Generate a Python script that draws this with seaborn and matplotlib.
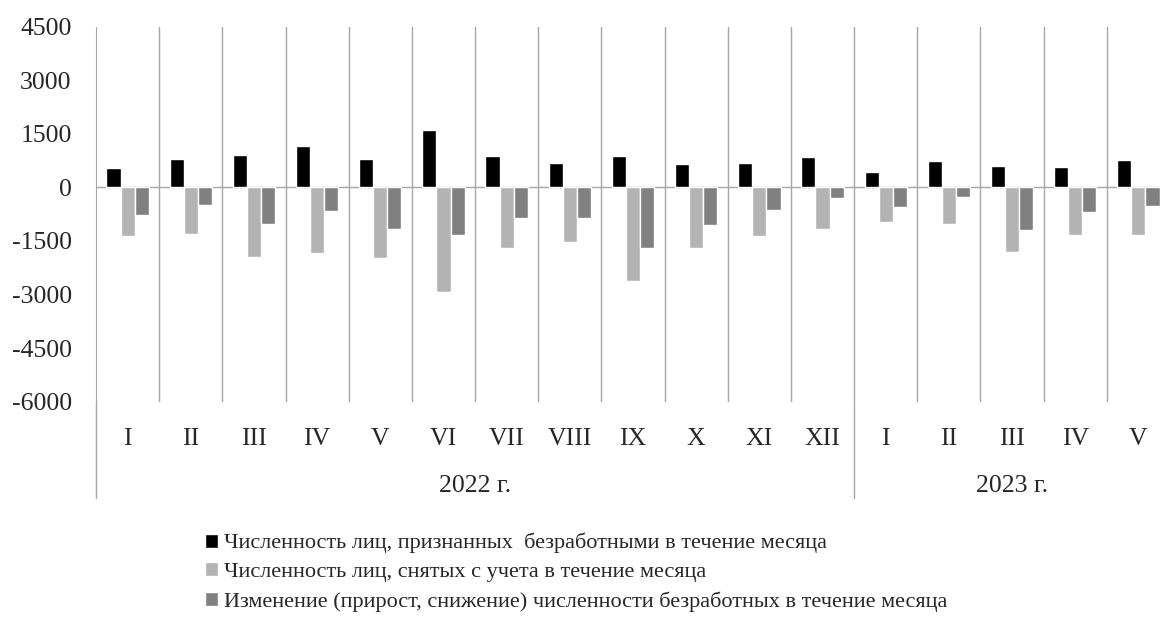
import pandas as pd
import seaborn as sns
import matplotlib.pyplot as plt
import matplotlib.transforms as mtransforms

months = ["I", "II", "III", "IV", "V", "VI", "VII", "VIII", "IX", "X", "XI", "XII",
          "I", "II", "III", "IV", "V"]
years = ["2022 г."] * 12 + ["2023 г."] * 5

recognized = [550, 800, 920, 1170, 800, 1600, 890, 690, 890, 660, 690, 850,
              440, 740, 600, 560, 780]
removed = [-1350, -1310, -1960, -1850, -1990, -2935, -1710, -1520, -2610, -1710, -1350, -1170,
           -980, -1020, -1820, -1320, -1320]
change = [-770, -490, -1020, -665, -1170, -1320, -850, -850, -1710, -1065, -625, -310,
          -560, -270, -1205, -700, -525]

series_names = [
    "Численность лиц, признанных  безработными в течение месяца",
    "Численность лиц, снятых с учета в течение месяца",
    "Изменение (прирост, снижение) численности безработных в течение месяца",
]
colors = ["#000000", "#b3b3b3", "#808080"]

keys = [f"{y}-{m}-{i}" for i, (y, m) in enumerate(zip(years, months))]
df = pd.concat([
    pd.DataFrame({"key": keys, "value": vals, "series": name})
    for name, vals in zip(series_names, [recognized, removed, change])
])

sns.set_style("white")
plt.rcParams["font.family"] = ["Liberation Serif", "DejaVu Serif"]
plt.rcParams["axes.unicode_minus"] = False

fig = plt.figure(figsize=(11.6, 6.19), dpi=100)
ax = fig.add_axes([96 / 1160, 1 - 401.7 / 619, 1074 / 1160, 375 / 619])

sns.barplot(data=df, x="key", y="value", hue="series", palette=colors,
            width=0.67, saturation=1, ax=ax, order=keys, hue_order=series_names)

grid_c = "#a6a6a6"
n = len(keys)
ax.set_xlim(-0.5, n - 0.5)
ax.set_ylim(-6000, 4500)
ax.set_yticks(range(-6000, 4501, 1500))
ax.tick_params(axis="y", direction="inout", length=15, color=grid_c, labelsize=18.5, pad=10)
ax.set_xticks(range(n))
ax.set_xticklabels(months, fontsize=18.5)
ax.tick_params(axis="x", length=0, pad=19)
ax.set_xlabel("")
ax.set_ylabel("")

for s in ["top", "right", "bottom"]:
    ax.spines[s].set_visible(False)
ax.spines["left"].set_color(grid_c)

# category separators and zero line
for i in range(n - 1):
    ax.axvline(i + 0.5, color=grid_c, lw=1, zorder=0)
ax.axhline(0, color=grid_c, lw=1, zorder=0.5)

# extended lines for the year grouping
trans = mtransforms.blended_transform_factory(ax.transData, ax.transAxes)
low = -0.257
ax.plot([-0.5, -0.5], [0, low], color=grid_c, lw=1, transform=trans, clip_on=False)
ax.plot([11.5, 11.5], [0, low], color=grid_c, lw=1, transform=trans, clip_on=False)
ax.text(5.5, -0.225, "2022 г.", transform=trans, ha="center", va="center", fontsize=18.5)
ax.text(14.0, -0.225, "2023 г.", transform=trans, ha="center", va="center", fontsize=18.5)

handles, labels = ax.get_legend_handles_labels()
ax.get_legend().remove()
fig.legend(handles, labels, loc="upper left", bbox_to_anchor=(196 / 1160, 1 - 524 / 619),
           frameon=False, fontsize=16, handlelength=0.6, handleheight=0.6,
           handletextpad=0.25, labelspacing=0.4, borderaxespad=0)

fig.savefig("out.png", dpi=100)
